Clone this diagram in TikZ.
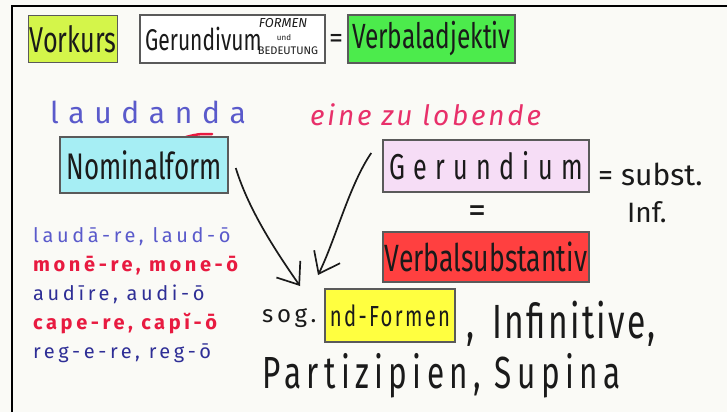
\documentclass[tikz,border=0pt]{standalone}
\usepackage{fontspec}
\setmainfont{Fira Sans}[FakeStretch=0.7]
\newfontfamily\listfont{Fira Sans}
\usetikzlibrary{arrows.meta,positioning}
\definecolor{chalk}{HTML}{FAFAF6}
\definecolor{inkblack}{HTML}{1A1A1A}
\definecolor{boxgray}{HTML}{5A5A5A}
\definecolor{limefill}{HTML}{D4F54A}
\definecolor{greenfill}{HTML}{4CEB4C}
\definecolor{cyanfill}{HTML}{A6EEF4}
\definecolor{lilacfill}{HTML}{F6DDF6}
\definecolor{redfill}{HTML}{FF4040}
\definecolor{yellowfill}{HTML}{FFFF40}
\definecolor{inkblue}{HTML}{5A5ACB}
\definecolor{inknavy}{HTML}{2E2E96}
\definecolor{inkred}{HTML}{E81A40}
\definecolor{inkpink}{HTML}{E8306A}
\tikzset{
  card/.style={
    rectangle,
    draw=boxgray,
    line width=1.5pt,
    inner sep=0pt,
    text=inkblack
  },
  hand/.style={inner sep=0pt, text=inkblack},
  conj/.style={
    inner sep=0pt,
    anchor=base west,
    font={\listfont\fontsize{20}{20}\selectfont\addfontfeature{LetterSpace=18}}
  },
  swoop/.style={line width=1.7pt, draw=inkblack, arrows={-Straight Barb[length=19pt, width=29pt]}}
}

\begin{document}
\begin{tikzpicture}[x=1pt, y=-1pt]
  \fill[chalk] (0,0) rectangle (727,412);
  \useasboundingbox (0,0) rectangle (727,412);
  \draw[line width=2.5pt, black] (12,412) -- (12,6) -- (727,6);

  % top row
  \node[card, fill=limefill, minimum width=89pt, minimum height=47pt, font=\fontsize{36}{36}\selectfont] (vorkurs) at (73,39) {Vorkurs};
  \node[card, fill=white, minimum width=185pt, minimum height=48pt] (gdvbox) at (232.5,39) {};
  \node[hand, anchor=base west, font=\fontsize{30}{30}\selectfont] (gdv) at (145,50) {Gerundivum};
  \node[hand, anchor=base, font=\listfont\itshape\fontsize{13}{13}\selectfont] (formen) at (283,28) {FORMEN};
  \node[hand, anchor=base, font=\listfont\fontsize{8}{8}\selectfont] (und) at (284,41) {und};
  \node[hand, anchor=base, font=\listfont\fontsize{11}{11}\selectfont] (bedeutung) at (288,55) {BEDEUTUNG};
  \node[hand, font=\listfont\fontsize{28}{28}\selectfont] (eqtop) at (336,41) {=};
  \node[card, fill=greenfill, minimum width=167pt, minimum height=48pt, font=\fontsize{35}{35}\selectfont] (verbadj) at (431.5,39) {Verbaladjektiv};

  % middle
  \node[hand, anchor=base west, text=inkblue, font={\listfont\fontsize{30}{30}\selectfont\addfontfeature{LetterSpace=32}}] (laudanda) at (50,123) {laudanda};
  \draw[inkred, line width=2.5pt, line cap=round] (186,137) .. controls (198,134) .. (212,134);
  \node[hand, anchor=base west, text=inkpink, font={\listfont\itshape\fontsize{28}{28}\selectfont\addfontfeature{LetterSpace=10}}] (lobende) at (310,125) {eine zu lobende};

  \node[card, fill=cyanfill, minimum width=168pt, minimum height=56pt, font=\fontsize{37}{37}\selectfont] (nominal) at (144,165) {Nominalform};
  \node[card, fill=lilacfill, minimum width=206pt, minimum height=52pt, font={\fontsize{36}{36}\selectfont\addfontfeature{LetterSpace=23}}] (gerundium) at (486,166) {Gerundium};
  \node[hand, anchor=base west, font=\listfont\fontsize{30}{30}\selectfont] (subst) at (598,185) {= subst.};
  \node[hand, anchor=base west, font=\listfont\fontsize{28}{28}\selectfont] (inf) at (627,222) {Inf.};
  \node[hand, font=\listfont\fontsize{36}{36}\selectfont] (eqmid) at (477,214) {=};
  \node[card, fill=redfill, minimum width=206pt, minimum height=50pt, font=\fontsize{38}{38}\selectfont] (vsubst) at (486,257) {Verbalsubstantiv};

  % conjugations
  \node[conj, text=inkblue] (laudare) at (33,242) {laudā-re, laud-ō};
  \node[conj, text=inkred, font={\listfont\bfseries\fontsize{20}{20}\selectfont\addfontfeature{LetterSpace=18}}] (monere) at (33,271) {monē-re, mone-ō};
  \node[conj, text=inknavy] (audire) at (33,300) {audīre, audi-ō};
  \node[conj, text=inkred, font={\listfont\bfseries\fontsize{20}{20}\selectfont\addfontfeature{LetterSpace=18}}] (capere) at (33,329) {cape-re, capĭ-ō};
  \node[conj, text=inknavy] (regere) at (33,358) {reg-e-re, reg-ō};

  % bottom
  \node[hand, anchor=base west, font={\listfont\fontsize{24}{24}\selectfont\addfontfeature{LetterSpace=15}}] (sog) at (262,322) {sog.};
  \node[card, fill=yellowfill, minimum width=130pt, minimum height=53pt, font={\fontsize{29}{29}\selectfont\addfontfeature{LetterSpace=8}}] (ndformen) at (390,315.5) {nd-Formen};
  \node[hand, anchor=base west, font={\fontsize{48}{48}\selectfont\addfontfeature{LetterSpace=5}}] (infinitive) at (466,338) {,\hspace{18pt}Infinitive,};
  \node[hand, anchor=base west, font={\fontsize{45}{45}\selectfont\addfontfeature{LetterSpace=12}}] (supina) at (262,388) {Partizipien, Supina};

  \coordinate (tipL) at (300,286);
  \coordinate (tipR) at (318,275);
  \draw[swoop] ([shift={(7,3)}]nominal.east) .. controls +(13,42) and +(-25,-36) .. (tipL);
  \draw[swoop] ([shift={(-11,-13)}]gerundium.west) .. controls +(-22,32) and +(17,-34) .. (tipR);
\end{tikzpicture}
\end{document}
